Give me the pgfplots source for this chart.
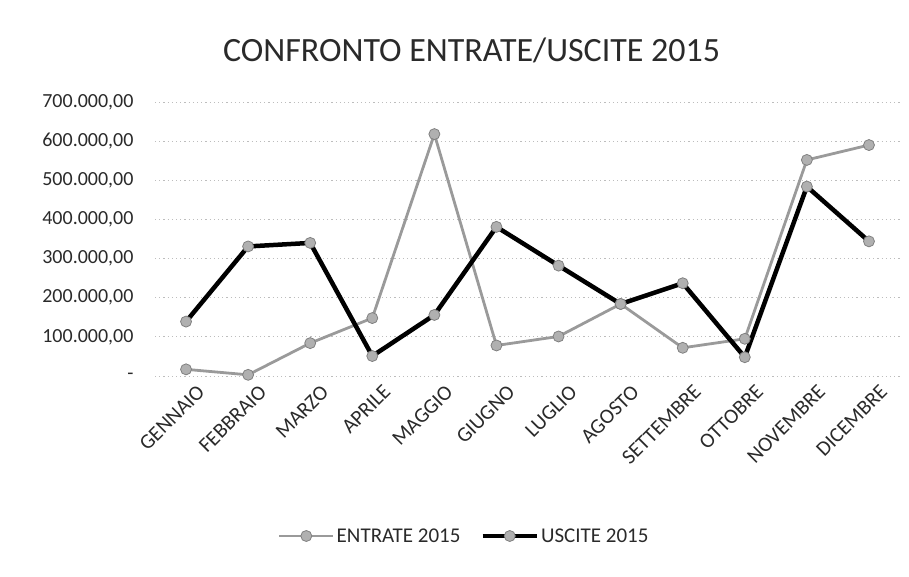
\documentclass[border=0pt]{standalone}
\usepackage{pgfplots}
\pgfplotsset{compat=1.18}
\usepackage{fontspec}
\setmainfont{Carlito}
\definecolor{txt}{HTML}{2A2A2A}
\definecolor{entr}{HTML}{9A9A9A}
\definecolor{mk}{HTML}{B0B0B0}
\definecolor{mkd}{HTML}{808080}
\definecolor{gridc}{HTML}{BDBDBD}
\begin{document}
\begin{tikzpicture}
\path[use as bounding box] (0,0) rectangle (909pt,577pt);
\begin{axis}[
  at={(155pt,201pt)}, anchor=south west,
  scale only axis, width=745pt, height=274pt,
  xmin=-0.5, xmax=11.5, ymin=0, ymax=700000,
  axis line style={draw=none},
  xmajorgrids=false, ymajorgrids=true,
  grid style={dash pattern=on 1.2pt off 3pt, color=gridc, line width=0.8pt},
  major tick length=0pt,
  scaled y ticks=false,
  xtick={0,...,11},
  xticklabels={GENNAIO,FEBBRAIO,MARZO,APRILE,MAGGIO,GIUGNO,LUGLIO,AGOSTO,SETTEMBRE,OTTOBRE,NOVEMBRE,DICEMBRE},
  xticklabel style={rotate=45, anchor=north east, font=\fontsize{21}{22}\selectfont, text=txt, xshift=5pt, yshift=-9pt},
  ytick={0,100000,200000,300000,400000,500000,600000,700000},
  yticklabels={{-\hspace{12pt}},{100.000,00},{200.000,00},{300.000,00},{400.000,00},{500.000,00},{600.000,00},{700.000,00}},
  yticklabel style={font=\fontsize{20}{21}\selectfont, text=txt, xshift=-18pt},
  title={CONFRONTO ENTRATE/USCITE 2015},
  title style={at={(0.425,1)}, anchor=south, yshift=30pt, font=\fontsize{34}{36}\selectfont, text=txt},
  legend style={at={(0.415,0)}, anchor=center, yshift=-160pt, draw=none, fill=none, font=\fontsize{21}{22}\selectfont, text=txt, legend columns=2, /tikz/every even column/.append style={column sep=18pt}},
  legend image code/.code={\draw[#1] (0cm,0cm) -- (1.9cm,0cm); \path[#1] plot coordinates {(0.95cm,0cm)};},
]
\addplot[color=entr, line width=2.8pt, mark=*, mark size=5.5pt, mark options={fill=mk, draw=mkd, line width=0.8pt}]
coordinates {(0,17000) (1,3000) (2,84000) (3,148000) (4,618000) (5,78000) (6,101000) (7,184000) (8,72000) (9,95000) (10,552000) (11,590000)};
\addlegendentry{ENTRATE 2015}
\addplot[color=black, line width=4.5pt, mark=*, mark size=5.5pt, mark options={fill=mk, draw=mkd, line width=0.8pt}]
coordinates {(0,139000) (1,331000) (2,340000) (3,51000) (4,156000) (5,381000) (6,282000) (7,184000) (8,237000) (9,48000) (10,484000) (11,344000)};
\addlegendentry{USCITE 2015}
\end{axis}
\end{tikzpicture}
\end{document}
